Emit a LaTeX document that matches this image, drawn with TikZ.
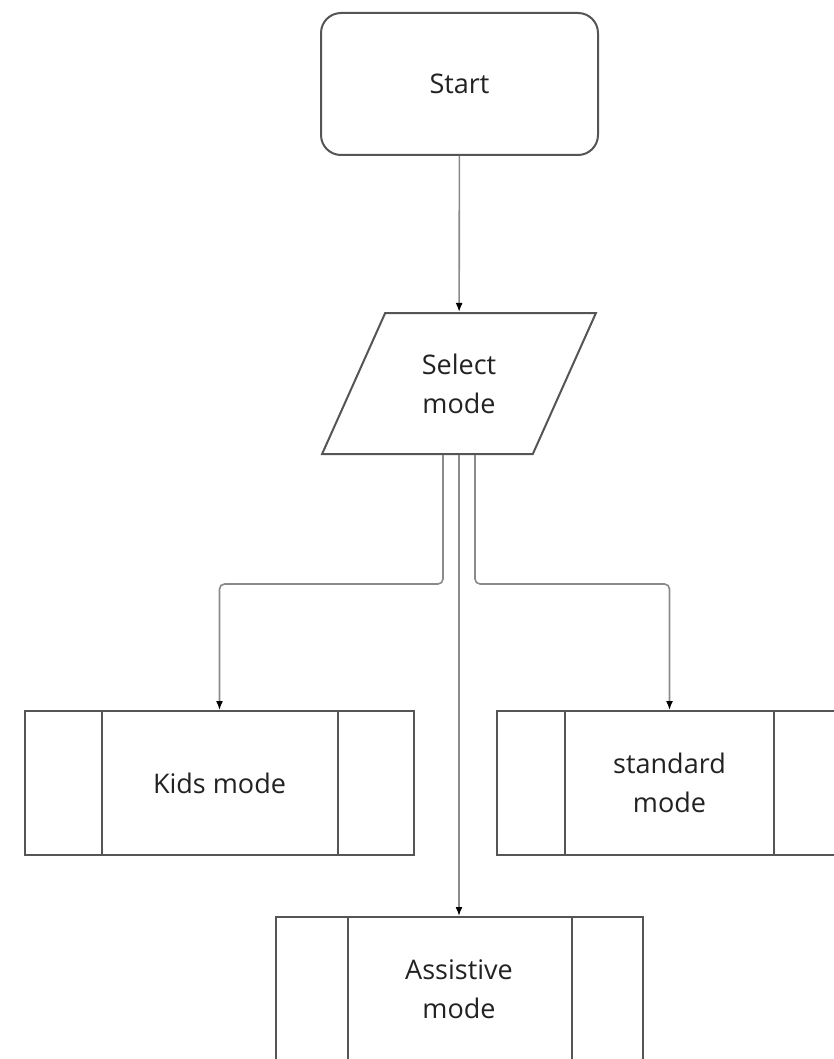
\documentclass[tikz,border=0pt]{standalone}
\usepackage{fontspec}
\setmainfont{Open Sans}
\usetikzlibrary{shapes.geometric,arrows.meta}
\definecolor{edge}{HTML}{555555}
\definecolor{wire}{HTML}{8A8A8A}
\definecolor{ink}{HTML}{222222}
\begin{document}
\begin{tikzpicture}[x=0.5pt,y=-0.5pt,font=\fontsize{13.5}{19.5}\selectfont,text=ink,
  blk/.style={draw=edge,line width=1pt,fill=white,align=center,inner sep=0pt},
  wr/.style={draw=wire,line width=0.8pt,rounded corners=2.5pt,-{Latex[length=4.5pt,width=3.5pt,color=black]}}]
\useasboundingbox (0,0) rectangle (834,1059);
\node[blk,rounded corners=10pt,minimum width=138.5pt,minimum height=71pt] (start) at (459.5,84) {Start};
\node[blk,trapezium,trapezium stretches=true,trapezium left angle=62,trapezium right angle=118,minimum width=137pt,minimum height=70.5pt] (sel) at (459,383.5) {Select\\mode};
% the three mode boxes
\foreach \n/\x/\y/\w/\a/\b/\t in {kids/219.5/783/389/78/77/{Kids mode},std/669.5/783/345/69/69/{standard\\mode},asst/459/989/367/73/72/{Assistive\\mode}} {
  \node[blk,minimum width=\w*0.5pt,minimum height=72pt] (\n) at (\x,\y) {\t};
  \draw[edge,line width=1pt] ([xshift=\a*0.5pt]\n.north west) -- ([xshift=\a*0.5pt]\n.south west) ([xshift=-\b*0.5pt]\n.north east) -- ([xshift=-\b*0.5pt]\n.south east);}
\draw[wr] (start) -- (sel);
\draw[wr] ([xshift=-8pt]sel.south) -- ++(0,129) -| (kids.north);
\draw[wr] (sel.south) -- (asst.north);
\draw[wr] ([xshift=8pt]sel.south) -- ++(0,129) -| (std.north);
\end{tikzpicture}
\end{document}
